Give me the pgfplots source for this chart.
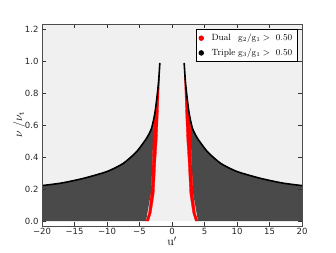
\documentclass[border=0pt]{standalone}
\usepackage{pgfplots}
\pgfplotsset{compat=1.18}
\usetikzlibrary{calc}
\usepackage{fontspec}
\newfontfamily\dejavu{DejaVu Sans}
\definecolor{bgc}{RGB}{240,240,240}
\definecolor{dgc}{RGB}{74,74,74}
\definecolor{redc}{RGB}{255,0,0}
\newcommand{\lbl}[1]{\hspace{6pt}\hbox to 2.95em{#1\hfil}}
\begin{document}
\begin{tikzpicture}
\begin{axis}[
  name=ax,
  scale only axis,
  width=260pt, height=202pt,
  xmin=-20, xmax=20, ymin=-0.031, ymax=1.234,
  xtick={-20,-15,-10,-5,0,5,10,15,20},
  xticklabels={−20,−15,−10,−5,0,5,10,15,20},
  ytick={0,0.2,0.4,0.6,0.8,1.0,1.2},
  yticklabels={0.0,0.2,0.4,0.6,0.8,1.0,1.2},
  tick align=inside,
  major tick length=4pt,
  tick style={black!80, line width=0.5pt},
  ticklabel style={font=\dejavu\fontsize{8.5}{10}\selectfont, text=black!85},
  xticklabel style={yshift=1pt},
  axis line style={black!70, line width=0.8pt},
  xlabel={$\mathrm{u}'$},
  ylabel={$\nu\ /\nu_{\mathrm{t}}$},
  label style={font=\fontsize{12}{14}\selectfont},
  xlabel style={at={(axis description cs:0.5,-0.075)}, anchor=center},
  ylabel style={at={(axis description cs:-0.088,0.5)}, anchor=center, rotate=0},
  axis on top,
  legend style={at={(0.983,0.974)}, anchor=north east, draw=black, line width=0.6pt,
    font=\fontsize{9}{10}\selectfont, inner xsep=3pt, inner ysep=2.5pt, row sep=2.5pt,
    cells={anchor=west}},
  legend image post style={xshift=1pt},
  legend cell align=left,
]
% light background above v=0
\addplot[fill=bgc, draw=none, forget plot] coordinates {(-20,0) (20,0) (20,1.234) (-20,1.234)} -- cycle;
% dark region, left
\addplot[fill=dgc, draw=none, forget plot] coordinates {
 (-20,0) (-20,0.222) (-17,0.238) (-13.65,0.267) (-10,0.31) (-7.5,0.361) (-5.45,0.434)
 (-3.92,0.518) (-3.15,0.58) (-2.64,0.674) (-2.89,0.57) (-3.0,0.382) (-3.25,0.173) (-4.0,0)} -- cycle;
% dark region, right
\addplot[fill=dgc, draw=none, forget plot] coordinates {
 (20,0) (20,0.222) (17,0.238) (13.65,0.267) (10,0.31) (7.5,0.361) (5.45,0.434)
 (3.92,0.518) (3.15,0.58) (2.64,0.674) (2.89,0.57) (3.0,0.382) (3.25,0.173) (4.0,0)} -- cycle;
% red band, left
\addplot[fill=redc, draw=redc, line width=0.3pt, forget plot] coordinates {
 (-4.0,0) (-3.6,0.05) (-3.25,0.173) (-3.0,0.382) (-2.89,0.57) (-2.64,0.674) (-2.3,0.78) (-2.05,0.88) (-1.87,0.99)
 (-2.0,0.8) (-2.13,0.65) (-2.28,0.507) (-2.48,0.382) (-2.74,0.173) (-3.2,0.05) (-3.6,0)} -- cycle;
% red band, right
\addplot[fill=redc, draw=redc, line width=0.3pt, forget plot] coordinates {
 (4.0,0) (3.6,0.05) (3.25,0.173) (3.0,0.382) (2.89,0.57) (2.64,0.674) (2.3,0.78) (2.05,0.88) (1.87,0.99)
 (2.0,0.8) (2.13,0.65) (2.28,0.507) (2.48,0.382) (2.74,0.173) (3.2,0.05) (3.6,0)} -- cycle;
% black boundary curves
\addplot[black, line width=1.6pt, smooth, tension=0.4, forget plot] coordinates {
 (-20,0.222) (-17,0.238) (-13.65,0.267) (-10,0.31) (-7.5,0.361) (-5.45,0.434)
 (-3.92,0.518) (-3.15,0.58) (-2.64,0.674) (-2.3,0.78) (-2.05,0.88) (-1.87,0.99)};
\addplot[black, line width=1.6pt, smooth, tension=0.4, forget plot] coordinates {
 (20,0.222) (17,0.238) (13.65,0.267) (10,0.31) (7.5,0.361) (5.45,0.434)
 (3.92,0.518) (3.15,0.58) (2.64,0.674) (2.3,0.78) (2.05,0.88) (1.87,0.99)};
\addlegendimage{only marks, mark=*, mark size=2.4pt, redc}
\addlegendentry{\lbl{Dual}$\mathrm{g_2/g_1} >\ 0.50$}
\addlegendimage{only marks, mark=*, mark size=2.4pt, black}
\addlegendentry{\lbl{Triple}$\mathrm{g_3/g_1} >\ 0.50$}
\end{axis}
\useasboundingbox ($(ax.south west)+(-42pt,-26pt)$) rectangle ($(ax.north east)+(34pt,24pt)$);
\end{tikzpicture}
\end{document}
